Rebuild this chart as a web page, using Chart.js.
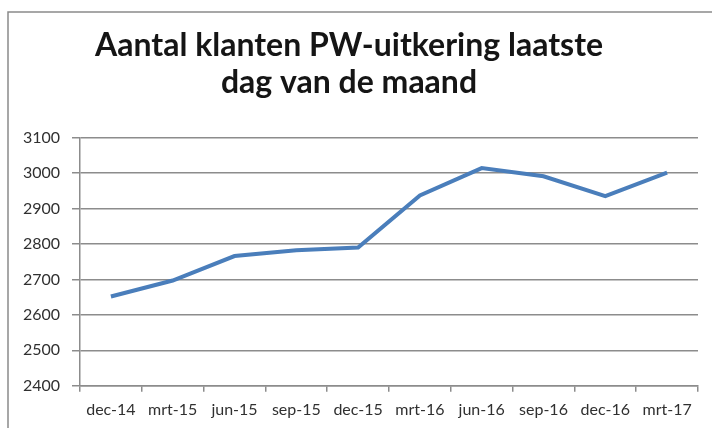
<!DOCTYPE html>
<html>
<head>
<meta charset="utf-8">
<script src="https://cdn.jsdelivr.net/npm/chart.js@4/dist/chart.umd.min.js"></script>
<style>
    html, body { margin: 0; padding: 0; background: #fff; }
    #wrap { width: 712px; height: 428px; position: relative; }
</style>
</head>
<body>
<div id="wrap"><canvas id="myChart" width="712" height="428"></canvas></div>
<script>
const titleLines = ['Aantal klanten PW-uitkering laatste', 'dag van de maand'];
const months = ['dec-14', 'mrt-15', 'jun-15', 'sep-15', 'dec-15', 'mrt-16', 'jun-16', 'sep-16', 'dec-16', 'mrt-17'];
const klanten = [2652, 2697, 2766, 2782, 2790, 2937, 3014, 2991, 2935, 3001];
const yMin = 2400;
const yMax = 3100;
const yStep = 100;

const gridColor = '#8c8c8c';
const textColor = '#303030';

// the picture is cut out of a bigger chart frame: only its top and left edge show
const framePlugin = {
    id: 'frame',
    beforeDraw(chart) {
        const ctx = chart.ctx;
        ctx.save();
        ctx.strokeStyle = '#8a8a8a';
        ctx.lineWidth = 1.5;
        ctx.beginPath();
        ctx.moveTo(8, 428);
        ctx.lineTo(8, 12);
        ctx.lineTo(712, 12);
        ctx.stroke();
        ctx.restore();
    }
};

const ctx = document.getElementById('myChart').getContext('2d');
const chart = new Chart(ctx, {
    type: 'line',
    data: {
        labels: months,
        datasets: [{
            label: 'klanten',
            data: klanten,
            borderColor: '#4a7ebb',
            borderWidth: 4,
            pointRadius: 0,
            tension: 0,
            fill: false
        }]
    },
    options: {
        responsive: false,
        animation: false,
        layout: {
            padding: { left: 0, right: 14, top: 0, bottom: 1 }
        },
        plugins: {
            legend: { display: false },
            tooltip: { enabled: false },
            title: {
                display: true,
                text: titleLines,
                color: '#151515',
                font: { family: 'Lato', size: 32, weight: 'bold', lineHeight: 1.15 },
                padding: { top: 27, bottom: 37 }
            }
        },
        scales: {
            x: {
                offset: true,
                grid: {
                    offset: true,
                    drawOnChartArea: false,
                    drawTicks: true,
                    tickLength: 6,
                    color: gridColor,
                    lineWidth: 1.5
                },
                border: { display: true, color: gridColor, width: 1.5 },
                ticks: {
                    color: textColor,
                    font: { family: 'Lato', size: 16 },
                    padding: 8,
                    maxRotation: 0,
                    autoSkip: false
                }
            },
            y: {
                min: yMin,
                max: yMax,
                afterFit(scale) { scale.width = 80; },
                grid: {
                    color: gridColor,
                    lineWidth: 1.5,
                    drawTicks: true,
                    tickLength: 8
                },
                border: { display: true, color: gridColor, width: 1.5 },
                ticks: {
                    stepSize: yStep,
                    color: textColor,
                    font: { family: 'Lato', size: 16 },
                    padding: 12,
                    callback: value => String(value)
                }
            }
        }
    },
    plugins: [framePlugin]
});
</script>
</body>
</html>
